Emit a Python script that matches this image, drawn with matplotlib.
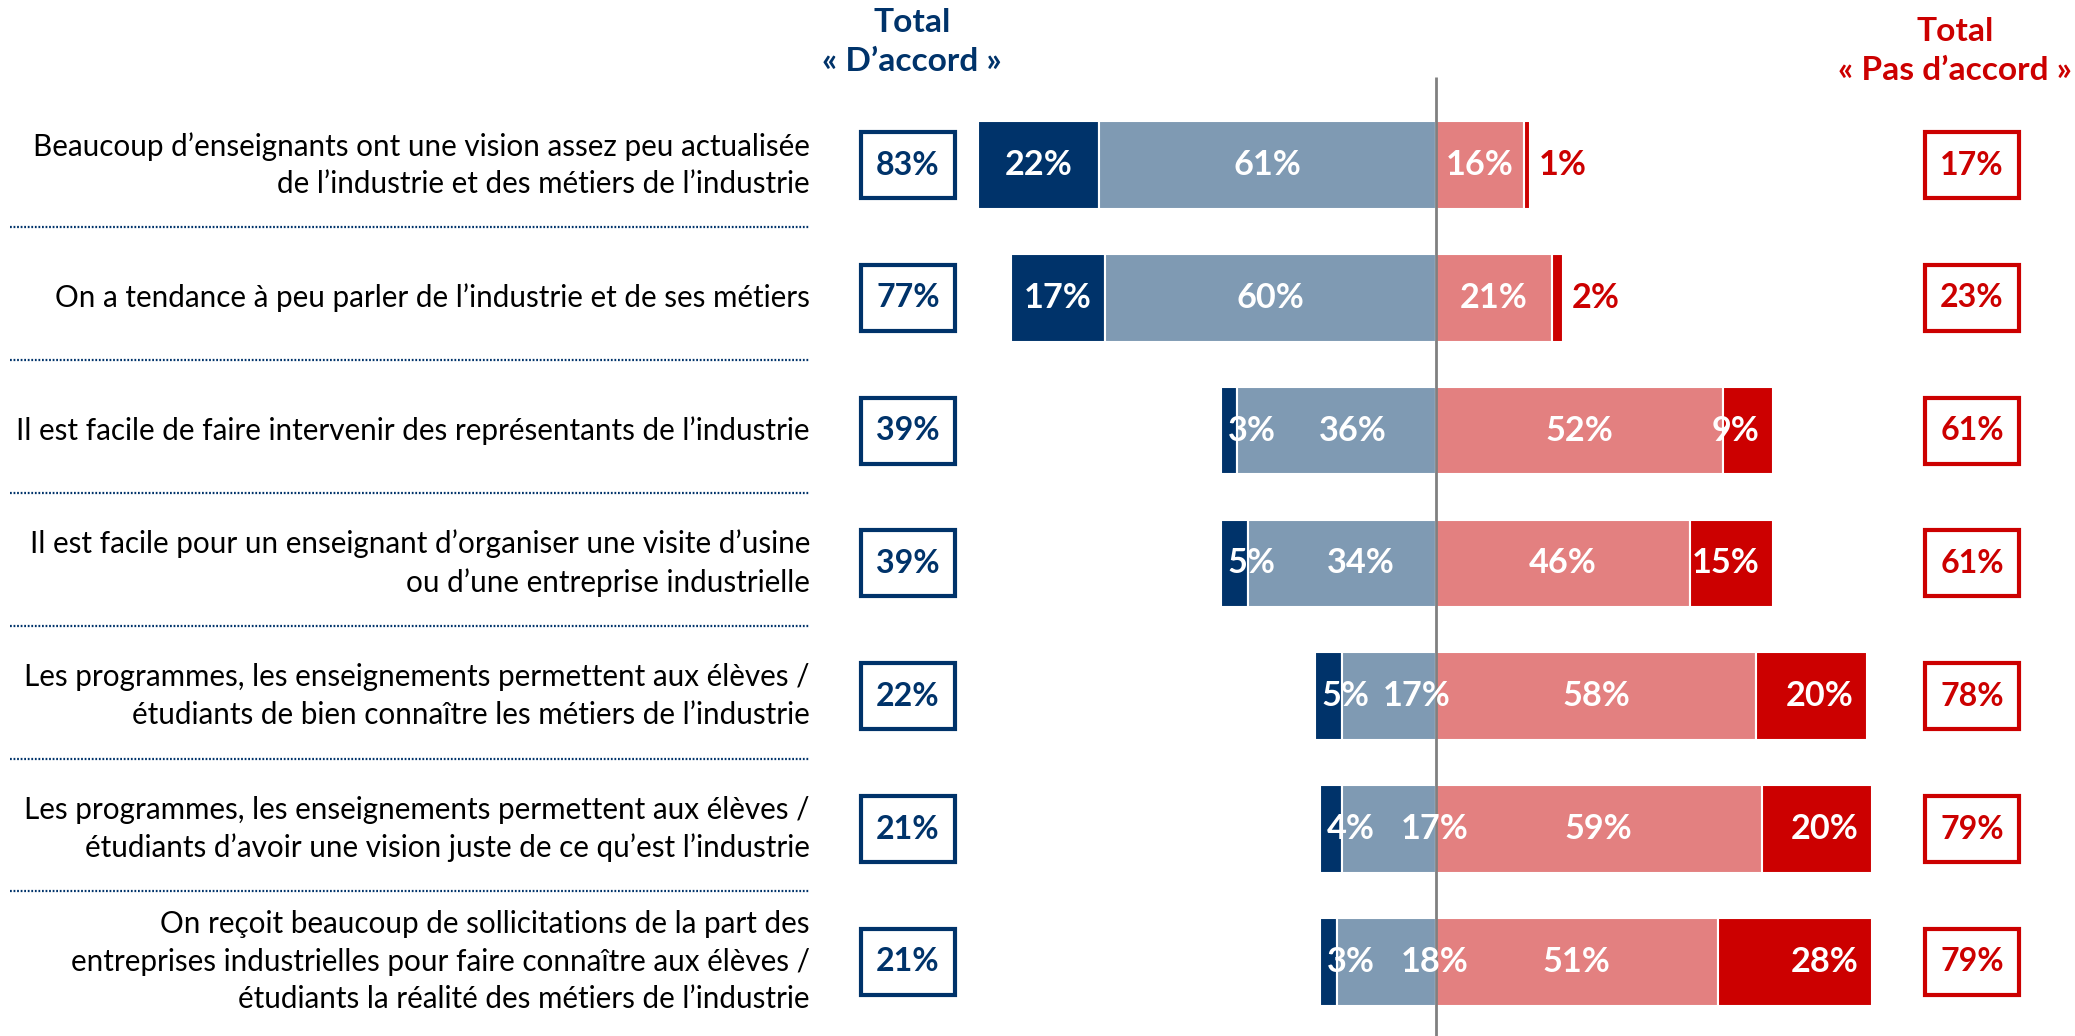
import matplotlib
matplotlib.use("Agg")
import matplotlib.pyplot as plt
from matplotlib.transforms import blended_transform_factory
from matplotlib.patches import Rectangle

# ---------------- data ----------------
statements = [
    "Beaucoup d’enseignants ont une vision assez peu actualisée\nde l’industrie et des métiers de l’industrie",
    "On a tendance à peu parler de l’industrie et de ses métiers",
    "Il est facile de faire intervenir des représentants de l’industrie",
    "Il est facile pour un enseignant d’organiser une visite d’usine\nou d’une entreprise industrielle",
    "Les programmes, les enseignements permettent aux élèves /\nétudiants de bien connaître les métiers de l’industrie",
    "Les programmes, les enseignements permettent aux élèves /\nétudiants d’avoir une vision juste de ce qu’est l’industrie",
    "On reçoit beaucoup de sollicitations de la part des\nentreprises industrielles pour faire connaître aux élèves /\nétudiants la réalité des métiers de l’industrie",
]
tout_a_fait_accord = [22, 17, 3, 5, 5, 4, 3]
plutot_accord = [61, 60, 36, 34, 17, 17, 18]
plutot_pas_accord = [16, 21, 52, 46, 58, 59, 51]
pas_du_tout_accord = [1, 2, 9, 15, 20, 20, 28]
total_accord = [83, 77, 39, 39, 22, 21, 21]
total_pas_accord = [17, 23, 61, 61, 78, 79, 79]
header_left = "Total\n« D’accord »"
header_right = "Total\n« Pas d’accord »"

# ---------------- style / layout ----------------
NAVY = "#00336A"
LIGHT = "#7F9AB3"
PINK = "#E38080"
RED = "#CC0000"
FAM = ["Lato", "DejaVu Sans"]
# horizontal nudges (px) of the "plutôt d'accord" labels, as placed in the original
light_label_nudge_px = [0, 0, 16, 19, 28, 46, 48]

W, H, DPI = 2075, 1036, 100
fig = plt.figure(figsize=(W / DPI, H / DPI), dpi=DPI)
renderer = fig.canvas.get_renderer()

def fit(s, target_px, weight="normal"):
    t = fig.text(0, 0, s, fontsize=20, fontweight=weight, family=FAM)
    w = t.get_window_extent(renderer).width
    t.remove()
    return 20 * target_px / w

fs_label = fit("Beaucoup d’enseignants ont une vision assez peu actualisée", 777)
fs_bar = fit("61%", 64, "bold") * 1.06
fs_box = fit("83%", 60, "bold") * 1.06
fs_head = fit("« Pas d’accord »", 234, "bold")

# axes spanning the whole figure; x in percent, y in rows
center_px = 1436.0
px_per_pct = 5.52
row0_px = 165.0
row_px = 132.8
ax = fig.add_axes([0, 0, 1, 1])
ax.set_xlim(-center_px / px_per_pct, (W - center_px) / px_per_pct)
top = -row0_px / row_px
ax.set_ylim(top + H / row_px, top)
ax.axis("off")

n = len(statements)
ys = list(range(n))
bh = 0.66
px = 1 / px_per_pct

neg_light_left = [-b for b in plutot_accord]
neg_dark_left = [-(a + b) for a, b in zip(tout_a_fait_accord, plutot_accord)]
ax.barh(ys, tout_a_fait_accord, left=neg_dark_left, height=bh, color=NAVY, edgecolor="white", linewidth=1.5)
ax.barh(ys, plutot_accord, left=neg_light_left, height=bh, color=LIGHT, edgecolor="white", linewidth=1.5)
ax.barh(ys, plutot_pas_accord, left=0, height=bh, color=PINK, edgecolor="white", linewidth=1.5)
ax.barh(ys, pas_du_tout_accord, left=plutot_pas_accord, height=bh, color=RED, edgecolor="white", linewidth=1.5)

lab = dict(fontsize=fs_bar, fontweight="bold", family=FAM, va="center", zorder=6)
for i in ys:
    a, b = tout_a_fait_accord[i], plutot_accord[i]
    c, d = plutot_pas_accord[i], pas_du_tout_accord[i]
    # tout à fait d'accord
    if a <= 5:
        ax.text(-(a + b) + 7 * px, i, f"{a}%", ha="left", color="white", **lab)
    else:
        ax.text(-(a + b) + a / 2, i, f"{a}%", ha="center", color="white", **lab)
    # plutôt d'accord
    ax.text(-b / 2 + light_label_nudge_px[i] * px, i, f"{b}%", ha="center", color="white", **lab)
    # plutôt pas d'accord
    ax.text(c / 2, i, f"{c}%", ha="center", color="white", **lab)
    # pas du tout d'accord
    if d < 3:
        ax.text(c + d + 9 * px, i, f"{d}%", ha="left", color=RED, **lab)
    else:
        ax.text(c + d - 13 * px, i, f"{d}%", ha="right", color="white", **lab)

# center line
ax.plot([0, 0], [top + 77 / row_px, top + H / row_px], color="#808080", lw=2, zorder=5,
        solid_capstyle="butt")

# left texts, separators, boxes
tr = blended_transform_factory(fig.transFigure, ax.transData)
for i in ys:
    ax.text(810 / W, i, statements[i], transform=tr, ha="right", va="center",
            fontsize=fs_label, family=FAM, color="black", linespacing=1.42)
    for xc, val, col in [(908, total_accord[i], NAVY), (1972, total_pas_accord[i], RED)]:
        bw, bhp = 94 / W, 66 / row_px
        ax.add_patch(Rectangle((xc / W - bw / 2, i - bhp / 2), bw, bhp, transform=tr,
                               fill=False, edgecolor=col, linewidth=3))
        ax.text(xc / W, i, f"{val}%", transform=tr, ha="center", va="center",
                fontsize=fs_box, fontweight="bold", family=FAM, color=col)
for i in ys[:-1]:
    ax.plot([10 / W, 810 / W], [i + 0.47, i + 0.47], transform=tr, color=NAVY,
            lw=1.6, linestyle=(0, (0.8, 0.8)))

# headers
fig.text(912 / W, 1 - 42 / H, header_left, ha="center", va="center", fontsize=fs_head,
         fontweight="bold", family=FAM, color=NAVY, linespacing=1.4)
fig.text(1955 / W, 1 - 51 / H, header_right, ha="center", va="center", fontsize=fs_head,
         fontweight="bold", family=FAM, color=RED, linespacing=1.4)

fig.savefig("out.png", dpi=DPI, facecolor="white")
